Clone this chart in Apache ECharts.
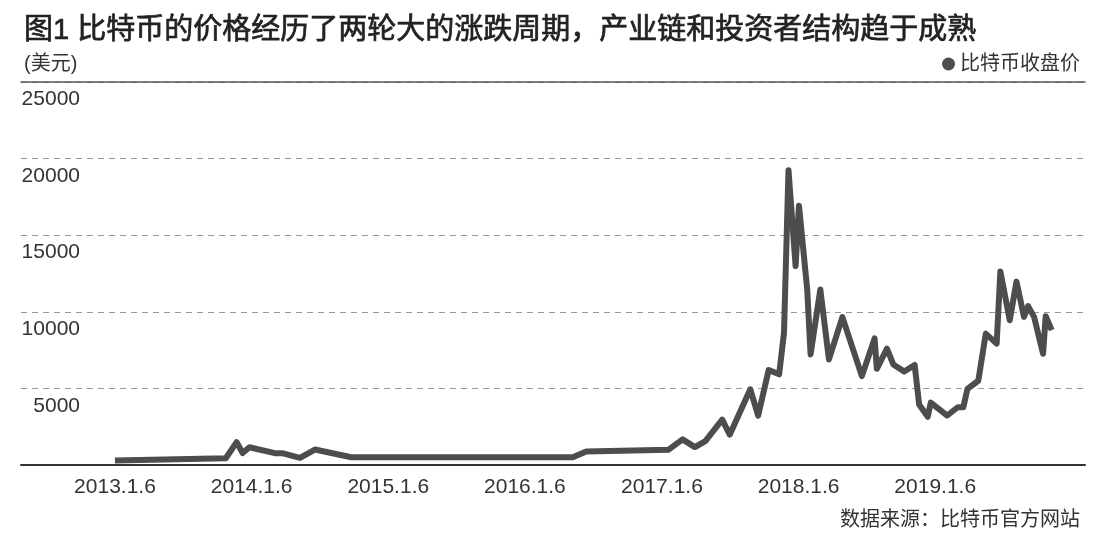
<!DOCTYPE html>
<html>
<head>
<meta charset="utf-8">
<script src="https://cdn.jsdelivr.net/npm/echarts@6/dist/echarts.min.js"></script>
<style>
  html, body { margin: 0; padding: 0; background: #fff; }
  #main { width: 1110px; height: 540px; }
</style>
</head>
<body>
<div id="main"></div>
<script>
// 收盘日期
var dates = [
    '2013-01-06', '2013-10-29', '2013-11-27', '2013-12-13', '2013-12-31',
    '2014-03-09', '2014-03-31', '2014-05-15', '2014-06-24', '2014-09-29',
    '2016-05-13', '2016-06-18', '2017-01-23', '2017-03-02', '2017-04-04',
    '2017-05-02', '2017-06-16', '2017-07-06', '2017-08-30', '2017-09-20',
    '2017-10-18', '2017-11-15', '2017-11-28', '2017-12-10', '2017-12-29',
    '2018-01-07', '2018-01-29', '2018-02-07', '2018-03-05', '2018-03-28',
    '2018-05-03', '2018-06-24', '2018-07-28', '2018-08-03', '2018-08-30',
    '2018-09-16', '2018-10-15', '2018-11-12', '2018-11-24', '2018-12-17',
    '2018-12-25', '2019-02-07', '2019-03-07', '2019-03-22', '2019-04-02',
    '2019-05-01', '2019-05-21', '2019-06-19', '2019-06-29', '2019-07-24',
    '2019-08-11', '2019-08-31', '2019-09-11', '2019-09-27', '2019-10-21',
    '2019-10-28', '2019-11-13'
];
// 比特币收盘价（美元）
var prices = [
    300, 440, 1490, 780, 1160,
    770, 760, 470, 1010, 505,
    505, 880, 990, 1670, 1170,
    1560, 2960, 1980, 4940, 3220,
    6200, 5920, 8630, 19240, 12980,
    16930, 11460, 7220, 11460, 6890,
    9650, 5800, 8260, 6280, 7590,
    6565, 6100, 6530, 3950, 3150,
    4070, 3230, 3770, 3770, 4970,
    5500, 8575, 7920, 12630, 9450,
    11970, 9670, 10370, 9670, 7260,
    9715, 8800
];
var xTickLabels = ['2013.1.6', '2014.1.6', '2015.1.6', '2016.1.6', '2017.1.6', '2018.1.6', '2019.1.6'];
var yTicks = [0, 5000, 10000, 15000, 20000, 25000];

function toTime(str, sep) {
    var p = str.split(sep);
    return +new Date(+p[0], +p[1] - 1, +p[2]);
}

var seriesData = [];
for (var i = 0; i < dates.length; i++) {
    seriesData.push([toTime(dates[i], '-'), prices[i]]);
}
var xTicks = [];
for (var j = 0; j < xTickLabels.length; j++) {
    xTicks.push(toTime(xTickLabels[j], '.'));
}

var xMin = +new Date(2012, 3, 30);
var xMax = +new Date(2020, 1, 10);
var baseFont = '"Liberation Sans", "Noto Sans CJK SC", sans-serif';

var chart = echarts.init(document.getElementById('main'));
var option = {
    backgroundColor: '#fff',
    animation: false,
    textStyle: { fontFamily: baseFont },
    title: [{
        text: '图1 比特币的价格经历了两轮大的涨跌周期，产业链和投资者结构趋于成熟',
        left: 19,
        top: 11,
        textStyle: {
            fontFamily: baseFont,
            fontSize: 29,
            fontWeight: 'normal',
            color: '#222',
            textBorderColor: '#222',
            textBorderWidth: 0.7
        }
    }, {
        text: '(美元)',
        left: 19,
        top: 49,
        textStyle: { fontFamily: baseFont, fontSize: 20, fontWeight: 'normal', color: '#333' }
    }, {
        text: '数据来源：比特币官方网站',
        right: 25,
        top: 505,
        textStyle: { fontFamily: baseFont, fontSize: 20, fontWeight: 'normal', color: '#333' }
    }],
    legend: {
        right: 25,
        top: 49,
        icon: 'circle',
        itemWidth: 13,
        itemHeight: 13,
        textStyle: { fontFamily: baseFont, fontSize: 20, color: '#333' },
        data: ['比特币收盘价']
    },
    grid: {
        left: 21,
        right: 25,
        top: 82,
        bottom: 75
    },
    xAxis: [{
        type: 'value',
        min: xMin,
        max: xMax,
        axisLine: { show: true, lineStyle: { color: '#333', width: 2 } },
        axisTick: { show: false },
        splitLine: { show: false },
        axisLabel: {
            customValues: xTicks,
            margin: 12,
            fontSize: 21,
            color: '#333',
            fontFamily: baseFont,
            formatter: function (v) {
                var d = new Date(v);
                return d.getFullYear() + '.' + (d.getMonth() + 1) + '.' + d.getDate();
            }
        }
    }, {
        type: 'value',
        position: 'top',
        min: xMin,
        max: xMax,
        axisLine: { show: true, lineStyle: { color: '#555', width: 1.5 } },
        axisTick: { show: false },
        axisLabel: { show: false },
        splitLine: { show: false }
    }],
    yAxis: {
        type: 'value',
        min: yTicks[0],
        max: yTicks[yTicks.length - 1],
        interval: yTicks[1] - yTicks[0],
        axisLine: { show: false },
        axisTick: { show: false },
        axisLabel: {
            inside: true,
            showMinLabel: false,
            align: 'right',
            verticalAlign: 'top',
            margin: 59,
            padding: [7, 0, 0, 0],
            fontSize: 21,
            color: '#333',
            fontFamily: baseFont,
            formatter: function (v) {
                return String(v);
            }
        },
        splitLine: {
            show: true,
            lineStyle: { color: '#999', type: [6, 5], width: 1 }
        }
    },
    series: [{
        name: '比特币收盘价',
        type: 'line',
        xAxisIndex: 0,
        data: seriesData,
        showSymbol: false,
        symbol: 'circle',
        color: '#4d4d4d',
        lineStyle: { color: '#4d4d4d', width: 6, join: 'round' }
    }]
};
chart.setOption(option);
</script>
</body>
</html>
